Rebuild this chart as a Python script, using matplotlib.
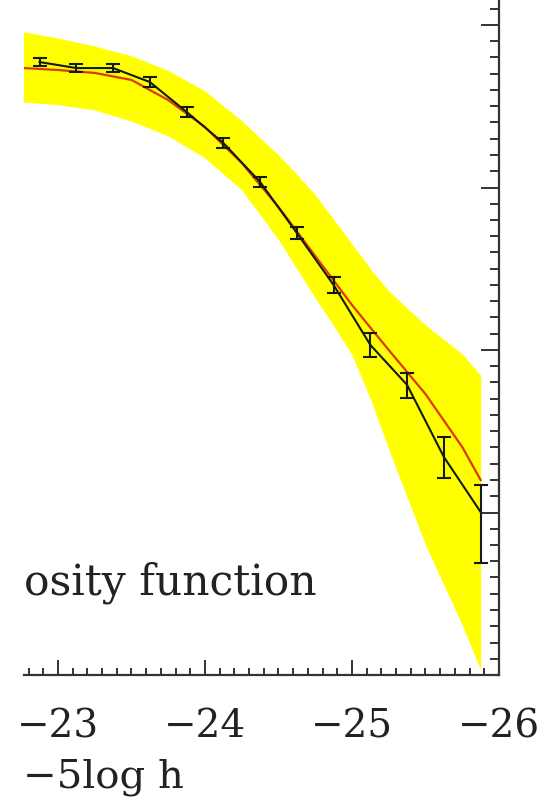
import matplotlib
matplotlib.use("Agg")
import matplotlib.pyplot as plt
from matplotlib.ticker import MultipleLocator

# ---------------- data ----------------
# observed luminosity function (black points with error bars)
mag_obs = [-22.875, -23.125, -23.375, -23.625, -23.875, -24.125, -24.375,
           -24.625, -24.875, -25.125, -25.375, -25.625, -25.875]
logphi_obs = [-2.228, -2.265, -2.265, -2.351, -2.535, -2.726, -2.966,
              -3.280, -3.600, -3.969, -4.215, -4.658, -4.997]
err_low = [0.025, 0.025, 0.025, 0.03, 0.03, 0.03, 0.03,
           0.037, 0.05, 0.074, 0.080, 0.129, 0.314]
err_high = [0.025, 0.025, 0.025, 0.03, 0.03, 0.03, 0.03,
            0.037, 0.05, 0.074, 0.074, 0.123, 0.166]

# model curve (red) and its spread (yellow band)
mag_model = [-22.6, -22.77, -23.0, -23.25, -23.5, -23.75, -24.0, -24.25,
             -24.5, -24.625, -24.75, -24.875, -25.0, -25.125, -25.25,
             -25.5, -25.75, -25.875]
logphi_model = [-2.255, -2.265, -2.277, -2.295, -2.338, -2.462, -2.628, -2.849,
                -3.120, -3.270, -3.422, -3.572, -3.723, -3.862, -4.000,
                -4.271, -4.597, -4.800]
band_high = [-2.02, -2.043, -2.080, -2.130, -2.190, -2.280, -2.406, -2.590,
             -2.800, -2.918, -3.046, -3.195, -3.348, -3.500, -3.637,
             -3.846, -4.025, -4.154]
band_low = [-2.465, -2.474, -2.490, -2.523, -2.591, -2.683, -2.818, -3.015,
            -3.320, -3.500, -3.680, -3.850, -4.030, -4.300, -4.610,
            -5.200, -5.692, -5.969]

xticks = [-23, -24, -25, -26]
xtick_labels = ["\u221223", "\u221224", "\u221225", "\u221226"]
xlabel_text = "\u22125log h"
legend_text = "osity function"

# ---------------- figure ----------------
W, H = 548, 799
plt.rcParams["font.family"] = ["DejaVu Serif"]
fig = plt.figure(figsize=(W / 100, H / 100), dpi=100)

left_px, right_px, bottom_px, top_px = 24, 499, 675, -137.5
ax = fig.add_axes([left_px / W, (H - bottom_px) / H,
                   (right_px - left_px) / W, (bottom_px - top_px) / H])
ax.set_xlim(-22.769, -26.0)
ax.set_ylim(-6.0, -1.0)

ax.fill_between(mag_model, band_low, band_high, color="#ffff00", lw=0, zorder=1)
ax.plot(mag_model, logphi_model, color="#dd3a0a", lw=1.6, zorder=2)
ax.errorbar(mag_obs, logphi_obs, yerr=[err_low, err_high], color="#141a14",
            lw=1.5, elinewidth=1.5, capsize=5, capthick=1.5, zorder=3)

spine_col = "#333333"
for s in ("left", "top"):
    ax.spines[s].set_visible(False)
for s in ("right", "bottom"):
    ax.spines[s].set_linewidth(1.6)
    ax.spines[s].set_color(spine_col)

ax.set_xticks(xticks)
ax.set_xticklabels(xtick_labels, fontsize=28, color="#222222")
ax.xaxis.set_minor_locator(MultipleLocator(0.1))
ax.yaxis.set_major_locator(MultipleLocator(1.0))
ax.yaxis.set_minor_locator(MultipleLocator(0.1))
ax.tick_params(axis="x", which="both", direction="in", top=False, bottom=True,
               color=spine_col, width=1.4, pad=24)
ax.tick_params(axis="x", which="major", length=11)
ax.tick_params(axis="x", which="minor", length=5)
ax.tick_params(axis="y", which="both", direction="in", left=False, right=True,
               labelleft=False, labelright=False, color=spine_col, width=1.4)
ax.tick_params(axis="y", which="major", length=13)
ax.tick_params(axis="y", which="minor", length=6.5)

# legend text: from x=23 px to about x=320 px, baseline at y=595 px
fig.text(24 / W, (H - 595) / H, legend_text, fontsize=30.5, ha="left",
         va="baseline", color="#222222")

fig.text(23 / W, (H - 787) / H, xlabel_text, fontsize=29, ha="left",
         va="baseline", color="#222222")

fig.savefig("out.png", dpi=100)
